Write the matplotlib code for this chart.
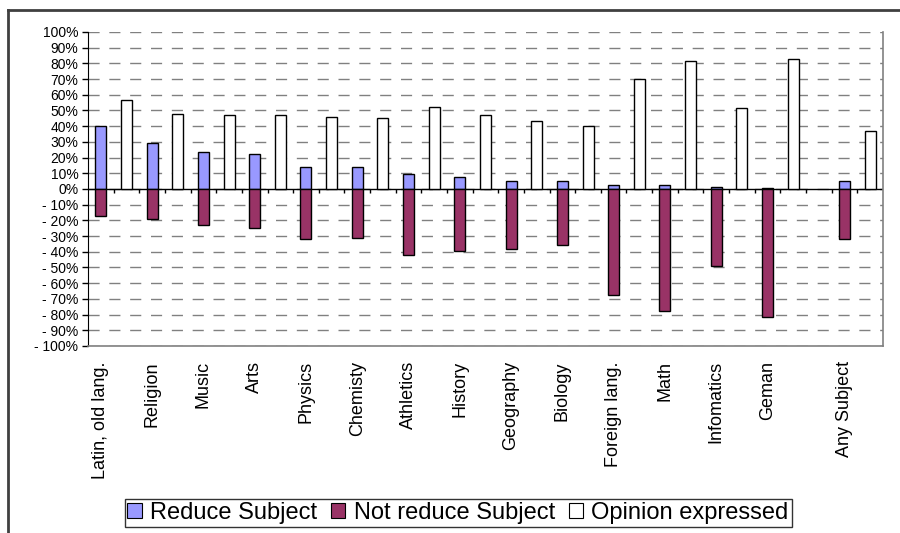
import matplotlib
matplotlib.use("Agg")
import matplotlib.pyplot as plt
from matplotlib.lines import Line2D
from matplotlib.patches import Patch
from matplotlib.ticker import MultipleLocator, FuncFormatter

plt.rcParams["font.family"] = ["Liberation Sans", "DejaVu Sans"]

subjects = ["Latin, old lang.", "Religion", "Music", "Arts", "Physics", "Chemisty",
            "Athletics", "History", "Geography", "Biology", "Foreign lang.", "Math",
            "Infomatics", "Geman", "Any Subject"]
reduce_pct = [40, 29, 23.5, 22, 14, 14, 9.6, 7.7, 5, 5, 2.8, 2.8, 1.5, 0.5, 5]
not_reduce_pct = [-17, -19, -23, -25, -32, -31, -42, -39.5, -38, -35.5, -67.5, -78, -49, -81.5, -32]
opinion_pct = [56.5, 48, 47, 47, 46, 45, 52.5, 47, 43.5, 40, 70, 81.5, 51.5, 82.5, 37]

# two slots per subject (stacked pair + "opinion" bar), one empty slot before "Any Subject"
gap_before = len(subjects) - 1
x_stack = [2 * i + (1 if i >= gap_before else 0) for i in range(len(subjects))]
x_open = [x + 1 for x in x_stack]
n_slots = x_open[-1] + 1

BLUE = "#9999ff"
PLUM = "#993366"
GRID = "#808080"

fig = plt.figure(figsize=(9, 5.33), dpi=100)
ax = fig.add_axes([0.0978, 0.351, 0.8832, 0.589])

w = 0.43
ax.bar(x_stack, reduce_pct, w, color=BLUE, edgecolor="black", lw=1, zorder=3)
ax.bar(x_stack, not_reduce_pct, w, color=PLUM, edgecolor="black", lw=1, zorder=3)
ax.bar(x_open, opinion_pct, w, color="white", edgecolor="black", lw=1, zorder=3)

ax.set_xlim(-0.5, n_slots - 0.5)
ax.set_ylim(-100, 100)
ax.yaxis.set_major_locator(MultipleLocator(10))
ax.yaxis.set_major_formatter(FuncFormatter(
    lambda v, _: f"{v:.0f}%" if v >= 0 else f"- {abs(v):.0f}%"))
ax.tick_params(axis="y", direction="out", length=4, width=1, labelsize=10, pad=3)
ax.grid(axis="y", color=GRID, ls=(0, (8, 7)), lw=1, zorder=0)

# zero line with category-boundary ticks
ax.axhline(0, color="black", lw=1, zorder=2)
ax.vlines([b + 0.5 for b in range(n_slots - 1)], -2.5, 0, color="black", lw=1, zorder=2)

ax.set_xticks(x_stack)
ax.set_xticklabels(subjects, rotation=90, fontsize=13, va="top", ha="center")
ax.tick_params(axis="x", length=0, pad=11)

ax.spines["top"].set_visible(False)
ax.spines["left"].set_color("black")
for s in ("right", "bottom"):
    ax.spines[s].set_color(GRID)
    ax.spines[s].set_linewidth(1.2)

handles = [Patch(facecolor=BLUE, edgecolor="black", lw=0.8),
           Patch(facecolor=PLUM, edgecolor="black", lw=0.8),
           Patch(facecolor="white", edgecolor="black", lw=0.8)]
leg = fig.legend(handles, ["Reduce Subject", "Not reduce Subject", "Opinion expressed"],
                 loc="center", bbox_to_anchor=(0.509, 0.0375), ncol=3, fontsize=17,
                 frameon=True, fancybox=False, edgecolor="black", handlelength=0.6,
                 handleheight=0.6, handletextpad=0.35, columnspacing=0.6,
                 borderpad=0.12, borderaxespad=0)
leg.get_frame().set_linewidth(1)

# chart-area frame (only top and left edges are inside the picture)
fig.add_artist(Line2D([0.009, 1.0], [0.981, 0.981], color="#404040", lw=2))
fig.add_artist(Line2D([0.009, 0.009], [0.0, 0.981], color="#404040", lw=2))

fig.savefig("out.png", dpi=100)
